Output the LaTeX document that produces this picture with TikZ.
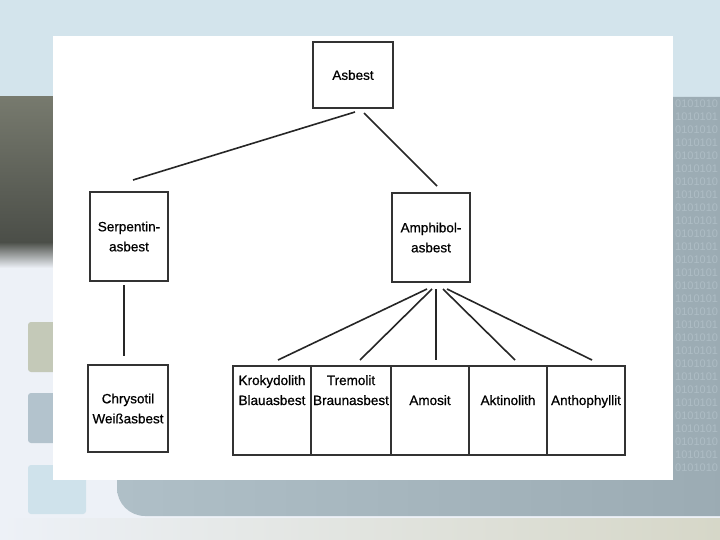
\documentclass[tikz,border=0pt]{standalone}
\usepackage{fontspec}
\setmainfont{Liberation Sans}
\newfontfamily\boxfont[FakeBold=0.6]{Liberation Sans}
\usetikzlibrary{positioning,calc}

\definecolor{bandblue}{HTML}{D3E4EC}
\definecolor{paleback}{HTML}{EDF1F7}
\definecolor{slateleft}{HTML}{AFBFC7}
\definecolor{slateright}{HTML}{9AAAB2}
\definecolor{digitblue}{HTML}{AEBDC5}
\definecolor{olivetop}{HTML}{777A6E}
\definecolor{olivedark}{HTML}{4B4E48}
\definecolor{beige}{HTML}{D6D7C8}
\definecolor{sqgreen}{HTML}{C4C9B8}
\definecolor{sqgray}{HTML}{B3C3CD}
\definecolor{sqblue}{HTML}{CFE2EB}

\newcommand\binpair{0101010\\1010101\\}

\tikzset{
  box/.style={draw=black!80, line width=1.3pt, fill=white, align=center,
    inner sep=0pt, outer sep=0pt, font=\boxfont\fontsize{13.5}{20}\selectfont},
  topbox/.style={box, text height=39pt, text depth=50pt, minimum width=78pt},
  link/.style={draw=black!85, line width=1.6pt},
}

\begin{document}
\begin{tikzpicture}[x=1pt,y=-1pt]
		\useasboundingbox (0,0) rectangle (720,540);
		% slide background
		\fill[paleback] (0,0) rectangle (720,540);
		\shade[left color=paleback, right color=beige] (0,518) rectangle (720,540);
		\fill[bandblue] (0,0) rectangle (720,97);
		\shade[left color=slateleft, right color=slateright, rounded corners=28pt]
			(117,97) rectangle (760,516);
		\shade[top color=olivetop, bottom color=olivedark] (0,97) rectangle (53,242);
		\shade[top color=olivedark, bottom color=paleback] (0,242) rectangle (53,268);
		\fill[sqgreen, rounded corners=3pt] (28,322) rectangle (86,372);
		\fill[sqgray, rounded corners=3pt] (28,393) rectangle (86,443);
		\fill[sqblue, rounded corners=3pt] (28,465) rectangle (86,514);
		\node[digitblue, anchor=north west, inner sep=0pt, align=left,
			font=\fontsize{11}{13}\selectfont] (bin) at (675,100)
			{\binpair\binpair\binpair\binpair\binpair\binpair\binpair
			 \binpair\binpair\binpair\binpair\binpair\binpair\binpair 0101010};
		\fill[white] (53,36) rectangle (673,480);

		% tree
		\node[box, minimum width=80pt, minimum height=66pt] (asb) at (353,75) {Asbest};
		\node[box, minimum width=78pt, minimum height=89pt] (ser) at (129,236.5) {Serpentin-\\asbest};
		\node[box, minimum width=78pt, minimum height=89pt] (amp) at (431,237.5) {Amphibol-\\asbest};
		\node[box, minimum width=80pt, minimum height=87pt] (chr) at (128,408.5) {Chrysotil\\Weißasbest};

		\node[topbox] (kro) at (272,410.5) {Krokydolith\\Blauasbest};
		\node[topbox, minimum width=80pt, right=0pt of kro] (tre) {Tremolit\\Braunasbest};
		\node[topbox, right=0pt of tre] (amo) {Amosit};
		\node[topbox, right=0pt of amo] (akt) {Aktinolith};
		\node[topbox, right=0pt of akt] (ant) {Anthophyllit};

		\draw[link] ($(asb.south)+(2,4)$) -- ($(ser.north)+(4,-12)$);
		\draw[link] ($(asb.south)+(11,5)$) -- ($(amp.north)+(6,-7)$);
		\draw[link] ($(ser.south)+(-5,4)$) -- ($(chr.north)+(-4,-9)$);
		\foreach \n/\sx/\ex in {kro/-4/6, tre/1/9, amo/5/6, akt/12/7, ant/16/6}
		{
			\draw[link] ($(amp.south)+(\sx,7)$) -- ($(\n.north)+(\ex,-6)$);
		}
	\end{tikzpicture}
\end{document}
